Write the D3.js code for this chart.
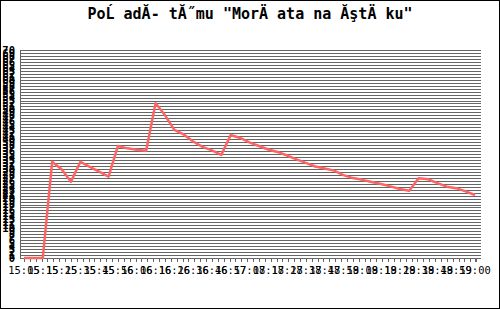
<!DOCTYPE html>
<html>
<head>
<meta charset="utf-8">
<script src="https://cdn.jsdelivr.net/npm/d3@7"></script>
<style>
  body { margin: 0; background: #fff; }
  svg { display: block; }
</style>
</head>
<body>
<div id="chart"></div>
<script>
var svgWidth = 500;
var svgHeight = 309;

var margin = { top: 50, right: 19, bottom: 51, left: 20 };
var width = svgWidth - margin.left - margin.right;
var height = svgHeight - margin.top - margin.bottom;

var title = "PoĹ adĂ- tĂ˝mu \"MorÄ ata na ĂştÄ ku\"";

// one label every second sample
var timeLabels = ["15:05", "15:15", "15:25", "15:35", "15:45", "15:56", "16:06", "16:16",
  "16:26", "16:36", "16:46", "16:57", "17:08", "17:18", "17:28", "17:38", "17:48",
  "17:59", "18:09", "18:19", "18:29", "18:39", "18:49", "18:59", "19:00"];

var values = [0, 0, 0, 32.4, 29.9, 25.7, 32.4, 30.7, 29.1, 27.4,
  37.7, 36.9, 36.4, 36.1, 52.1, 48.1, 43.1, 41.6, 39.2, 37.4,
  36.2, 34.7, 41.4, 40.4, 38.9, 37.7, 36.5, 35.7, 34.5, 33.2,
  32.0, 30.8, 30.1, 29.4, 27.9, 26.9, 26.3, 25.6, 24.9, 24.1,
  23.2, 22.6, 26.8, 26.5, 25.2, 24.0, 23.5, 22.4, 21.2];

var yMax = 70;

var svg = d3.select("#chart")
  .append("svg")
  .attr("width", svgWidth)
  .attr("height", svgHeight);

// outer frame
svg.append("rect")
  .attr("x", 0.5).attr("y", 0.5)
  .attr("width", svgWidth - 1).attr("height", svgHeight - 1)
  .attr("fill", "#fff")
  .attr("stroke", "#000");

svg.append("text")
  .attr("x", svgWidth / 2)
  .attr("y", 19)
  .attr("text-anchor", "middle")
  .attr("font-family", "DejaVu Sans Mono")
  .attr("font-weight", "bold")
  .attr("font-size", "15px")
  .attr("fill", "#000")
  .text(title);

var chartGroup = svg.append("g")
  .attr("transform", `translate(${margin.left}, ${margin.top})`);

var xScale = d3.scaleLinear()
  .domain([0, values.length - 1])
  .range([4, width - 6]);

var yScale = d3.scaleLinear()
  .domain([0, yMax])
  .range([height, 0]);

// horizontal grid, one line per unit
var yTicks = d3.range(0, yMax + 1);
chartGroup.append("g")
  .selectAll("line")
  .data(yTicks)
  .enter()
  .append("line")
  .attr("x1", 0)
  .attr("x2", width)
  .attr("y1", d => Math.round(yScale(d)) + 0.5)
  .attr("y2", d => Math.round(yScale(d)) + 0.5)
  .attr("stroke", "#666")
  .attr("shape-rendering", "crispEdges");

// y labels (packed so tight they overlap)
var leftAxis = d3.axisLeft(yScale)
  .tickValues(yTicks)
  .tickSize(0)
  .tickPadding(5);

var yAxis = chartGroup.append("g")
  .call(leftAxis);
yAxis.select(".domain").attr("stroke", "#666").attr("shape-rendering", "crispEdges");
yAxis.selectAll("text")
  .attr("font-family", "DejaVu Sans Mono")
  .attr("font-weight", "bold")
  .attr("font-size", "10.5px")
  .attr("fill", "#000");

// x axis: minor ticks, labels on every second sample
var minorTicks = d3.range(0, values.length - 0.5, 0.625);
var bottomAxis = d3.axisBottom(xScale)
  .tickValues(minorTicks)
  .tickSize(4)
  .tickFormat("");

var xAxis = chartGroup.append("g")
  .attr("transform", `translate(0, ${height})`)
  .call(bottomAxis);
xAxis.select(".domain").attr("stroke", "#666").attr("shape-rendering", "crispEdges");
xAxis.selectAll(".tick line").attr("stroke", "#666").attr("shape-rendering", "crispEdges");

chartGroup.append("g")
  .selectAll("text")
  .data(timeLabels)
  .enter()
  .append("text")
  .attr("x", (d, i) => xScale(i * 2))
  .attr("y", height + 16)
  .attr("text-anchor", "middle")
  .attr("font-family", "DejaVu Sans Mono")
  .attr("font-size", "10.4px")
  .attr("fill", "#000")
  .text(d => d);

var line = d3.line()
  .x((d, i) => xScale(i))
  .y(d => yScale(d));

chartGroup.append("path")
  .datum(values)
  .attr("d", line)
  .attr("fill", "none")
  .attr("stroke", "#ff6464")
  .attr("stroke-width", 2.5)
  .attr("stroke-linejoin", "round");
</script>
</body>
</html>
